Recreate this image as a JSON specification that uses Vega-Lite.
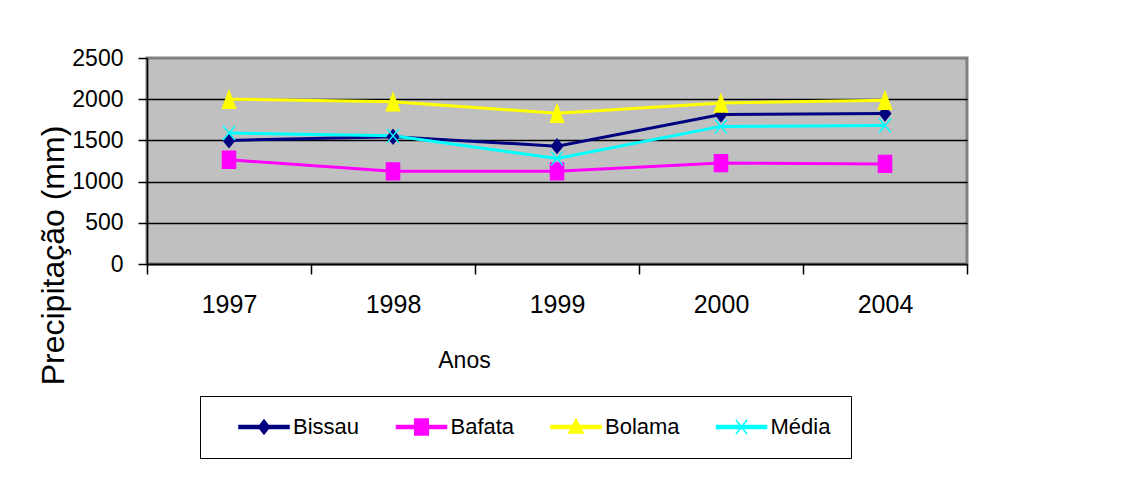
{
  "$schema": "https://vega.github.io/schema/vega-lite/v6.json",
  "width": 820,
  "height": 206,
  "autosize": {"type": "none"},
  "padding": {"left": 147, "top": 58, "right": 162, "bottom": 220},
  "background": "white",
  "config": {
    "view": {"fill": "#C0C0C0", "stroke": "#808080", "strokeWidth": 3},
    "font": "Liberation Sans"
  },
  "data": {
    "values": [
      {"Serie": "Bissau", "Ano": "1997", "Precip": 1500},
      {"Serie": "Bissau", "Ano": "1998", "Precip": 1545},
      {"Serie": "Bissau", "Ano": "1999", "Precip": 1430},
      {"Serie": "Bissau", "Ano": "2000", "Precip": 1815},
      {"Serie": "Bissau", "Ano": "2004", "Precip": 1825},
      {"Serie": "Bafata", "Ano": "1997", "Precip": 1265},
      {"Serie": "Bafata", "Ano": "1998", "Precip": 1125},
      {"Serie": "Bafata", "Ano": "1999", "Precip": 1125},
      {"Serie": "Bafata", "Ano": "2000", "Precip": 1225},
      {"Serie": "Bafata", "Ano": "2004", "Precip": 1215},
      {"Serie": "Bolama", "Ano": "1997", "Precip": 2000},
      {"Serie": "Bolama", "Ano": "1998", "Precip": 1970},
      {"Serie": "Bolama", "Ano": "1999", "Precip": 1830},
      {"Serie": "Bolama", "Ano": "2000", "Precip": 1955},
      {"Serie": "Bolama", "Ano": "2004", "Precip": 1988},
      {"Serie": "Média", "Ano": "1997", "Precip": 1590},
      {"Serie": "Média", "Ano": "1998", "Precip": 1555},
      {"Serie": "Média", "Ano": "1999", "Precip": 1280},
      {"Serie": "Média", "Ano": "2000", "Precip": 1670},
      {"Serie": "Média", "Ano": "2004", "Precip": 1680}
    ]
  },
  "layer": [
    {
      "mark": {"type": "line", "strokeWidth": 3},
      "encoding": {
        "x": {
          "field": "Ano", "type": "ordinal",
          "sort": ["1997", "1998", "1999", "2000", "2004"],
          "scale": {"type": "band", "paddingInner": 0, "paddingOuter": 0},
          "axis": {
            "title": "Anos", "tickBand": "extent", "grid": false,
            "domainColor": "black", "domainWidth": 1.5,
            "tickColor": "black", "tickWidth": 1.5, "tickSize": 10,
            "labelFont": "Liberation Sans", "labelFontSize": 25, "labelColor": "black",
            "labelBaseline": "alphabetic", "labelPadding": 38, "labelAngle": 0,
            "titleFont": "Liberation Sans", "titleFontSize": 23, "titleFontWeight": "normal",
            "titleColor": "black", "titleX": 317, "titleY": 103,
            "titleBaseline": "alphabetic", "titleAlign": "center"
          }
        },
        "y": {
          "field": "Precip", "type": "quantitative",
          "scale": {"domain": [0, 2500], "nice": false},
          "axis": {
            "title": "Precipitação (mm)",
            "values": [0, 500, 1000, 1500, 2000, 2500],
            "format": "d",
            "grid": true,
            "gridColor": {"condition": {"test": "datum.value === 2500", "value": "transparent"}, "value": "black"},
            "gridWidth": 1.5,
            "domainColor": "black", "domainWidth": 1.5,
            "tickColor": "black", "tickWidth": 1.5, "tickSize": 9,
            "labelPadding": 15, "labelFontSize": 23, "labelColor": "black",
            "labelFont": "Liberation Sans", "labelFlush": false, "labelOverlap": false,
            "titleFont": "Liberation Sans", "titleFontSize": 32, "titleFontWeight": "normal",
            "titleColor": "black", "titleAngle": 270, "titleX": -84, "titleY": 197,
            "titleBaseline": "alphabetic", "titleAlign": "center"
          }
        },
        "color": {
          "field": "Serie", "type": "nominal",
          "scale": {"domain": ["Bissau", "Bafata", "Bolama", "Média"], "range": ["#000080", "#FF00FF", "#FFFF00", "#00FFFF"]},
          "legend": {
            "title": null, "orient": "none", "legendX": 53, "legendY": 338,
            "direction": "horizontal", "fillColor": "white", "strokeColor": "black",
            "padding": 20, "symbolSize": 256, "symbolOffset": 33, "labelOffset": 18,
            "columnPadding": 17.5, "labelFont": "Liberation Sans", "labelFontSize": 22,
            "labelColor": "black", "symbolStrokeWidth": 1.5, "symbolOpacity": 1,
            "symbolType": {"expr": "datum.value === 'Bissau' ? 'M-3.125,-0.19H3.125V0.19H-3.125Z M0,-0.875L0.69,0L0,0.875L-0.69,0Z' : datum.value === 'Bafata' ? 'M-3.125,-0.19H3.125V0.19H-3.125Z M-0.85,-1H0.85V1H-0.85Z' : datum.value === 'Bolama' ? 'M-3.125,-0.19H3.125V0.19H-3.125Z M0,-0.95L0.9,0.75H-0.9Z' : 'M-3.125,-0.19H3.125V0.19H-3.125Z M-0.7,-0.9L0.7,0.9M-0.7,0.9L0.7,-0.9'"}
          }
        }
      }
    },
    {
      "mark": {
        "type": "point", "filled": true, "size": 196, "strokeWidth": 1.5, "opacity": 1,
        "shape": {"expr": "datum.Serie === 'Bissau' ? 'M0,-1L0.8,0L0,1L-0.8,0Z' : datum.Serie === 'Bafata' ? 'M-0.93,-1.2H0.93V1.2H-0.93Z' : datum.Serie === 'Bolama' ? 'M0,-1.2L0.93,1.3H-0.93Z' : 'M-0.85,-1L0.85,1M-0.85,1L0.85,-1'"}
      },
      "encoding": {
        "x": {"field": "Ano", "type": "ordinal", "sort": ["1997", "1998", "1999", "2000", "2004"]},
        "y": {"field": "Precip", "type": "quantitative"},
        "color": {
          "field": "Serie", "type": "nominal",
          "scale": {"domain": ["Bissau", "Bafata", "Bolama", "Média"], "range": ["#000080", "#FF00FF", "#FFFF00", "#00FFFF"]}
        },
        "stroke": {
          "field": "Serie", "type": "nominal",
          "scale": {"domain": ["Bissau", "Bafata", "Bolama", "Média"], "range": ["#000080", "#FF00FF", "#FFFF00", "#00FFFF"]},
          "legend": null
        }
      }
    }
  ]
}
